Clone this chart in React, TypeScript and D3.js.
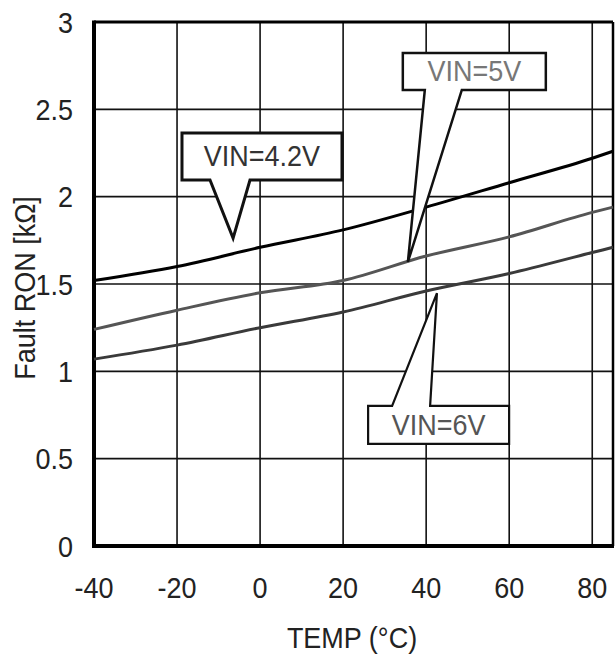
import React from "react";
import * as d3 from "d3";

const temps = [-40, -20, 0, 20, 40, 60, 80, 85];
const vin42 = [1.52, 1.6, 1.71, 1.81, 1.94, 2.08, 2.22, 2.26];
const vin5 = [1.24, 1.35, 1.45, 1.52, 1.66, 1.77, 1.91, 1.94];
const vin6 = [1.07, 1.15, 1.25, 1.34, 1.46, 1.56, 1.68, 1.71];

const xTicks = [-40, -20, 0, 20, 40, 60, 80];
const yTicks = [0, 0.5, 1, 1.5, 2, 2.5, 3];

const seriesNames = ["VIN=4.2V", "VIN=5V", "VIN=6V"];
const seriesColors = ["#000000", "#555555", "#3a3a3a"];

// callouts: tip and box centre in data units
const calloutLabels = ["VIN=4.2V", "VIN=5V", "VIN=6V"];
const calloutTipTemp = [-6.5, 35.6, 42.6];
const calloutTipVal = [1.763, 1.626, 1.448];
const calloutBoxTemp = [0.46, 51.6, 43.0];
const calloutBoxVal = [2.23, 2.717, 0.693];

const W = 615;
const H = 657;
const FONT = "'Liberation Sans', Arial, sans-serif";

export default function App() {
  const x = d3.scaleLinear().domain([-40, 85]).range([94, 613]);
  const y = d3.scaleLinear().domain([0, 3]).range([546, 22]);

  const line = d3
    .line<number>()
    .x((_, i) => x(temps[i]))
    .y((d) => y(d))
    .curve(d3.curveMonotoneX);

  const series = [vin42, vin5, vin6];

  // callout geometry (px sizes are styling)
  const boxW = [160, 143, 141];
  const boxH = [47, 37, 38];
  const baseL = [-52, -49.5, -46.5];
  const baseR = [-12, -12.5, -8.5];
  const strokeW = [3, 2.5, 2.2];
  const textColors = ["#333", "#777", "#555"];

  const calloutPath = (i: number) => {
    const cx = x(calloutBoxTemp[i]);
    const cy = y(calloutBoxVal[i]);
    const tx = x(calloutTipTemp[i]);
    const ty = y(calloutTipVal[i]);
    const l = cx - boxW[i] / 2;
    const r = cx + boxW[i] / 2;
    const t = cy - boxH[i] / 2;
    const b = cy + boxH[i] / 2;
    if (ty > cy) {
      // pointer downward from bottom
      return `M${l},${t}H${r}V${b}H${cx + baseR[i]}L${tx},${ty}L${cx + baseL[i]},${b}H${l}Z`;
    }
    return `M${l},${t}H${cx + baseL[i]}L${tx},${ty}L${cx + baseR[i]},${t}H${r}V${b}H${l}Z`;
  };

  const stretch = 1.12;

  return (
    <svg
      width={W}
      height={H}
      style={{ position: "absolute", left: 0, top: 0, background: "#fff" }}
    >
      <rect x={0} y={0} width={W} height={H} fill="#fff" />
      {/* grid */}
      {xTicks.slice(1).map((t) => (
        <line key={"gx" + t} x1={x(t)} x2={x(t)} y1={y(3)} y2={y(0)} stroke="#111" strokeWidth={1.6} />
      ))}
      {yTicks.slice(1, -1).map((t) => (
        <line key={"gy" + t} x1={x(-40)} x2={x(85)} y1={y(t)} y2={y(t)} stroke="#111" strokeWidth={1.6} />
      ))}
      {/* frame */}
      <line x1={x(-40)} x2={x(85)} y1={y(3)} y2={y(3)} stroke="#000" strokeWidth={3} />
      <line x1={x(85)} x2={x(85)} y1={y(3)} y2={y(0)} stroke="#000" strokeWidth={2.5} />
      <line x1={x(-40)} x2={x(-40)} y1={y(3) - 1.5} y2={y(0) + 2} stroke="#000" strokeWidth={4} />
      <line x1={x(-40) - 2} x2={x(85) + 1} y1={y(0)} y2={y(0)} stroke="#000" strokeWidth={4} />

      {/* series */}
      {series.map((s, i) => (
        <path key={seriesNames[i]} d={line(s) || ""} fill="none" stroke={seriesColors[i]} strokeWidth={3} />
      ))}

      {/* callouts */}
      {calloutLabels.map((lab, i) => (
        <g key={lab}>
          <path d={calloutPath(i)} fill="#fff" stroke="#111" strokeWidth={strokeW[i]} strokeLinejoin="miter" />
          <text
            transform={`translate(${x(calloutBoxTemp[i])},${y(calloutBoxVal[i]) + 10}) scale(1,${stretch})`}
            textAnchor="middle"
            fontFamily={FONT}
            fontSize={27}
            fill={textColors[i]}
          >
            {lab}
          </text>
        </g>
      ))}

      {/* y tick labels */}
      {yTicks.map((t) => (
        <text
          key={"yl" + t}
          transform={`translate(73,${y(t) + 10.5}) scale(1,${stretch})`}
          textAnchor="end"
          fontFamily={FONT}
          fontSize={27}
          fill="#222"
        >
          {String(t)}
        </text>
      ))}
      {/* x tick labels */}
      {xTicks.map((t) => (
        <text
          key={"xl" + t}
          transform={`translate(${x(t)},598) scale(1,${stretch})`}
          textAnchor="middle"
          fontFamily={FONT}
          fontSize={27}
          fill="#222"
        >
          {String(t)}
        </text>
      ))}
      {/* axis titles */}
      <text
        transform={`translate(352,648) scale(1,${stretch})`}
        textAnchor="middle"
        fontFamily={FONT}
        fontSize={27}
        fill="#222"
      >
        TEMP (°C)
      </text>
      <text
        transform={`translate(35,288) rotate(-90) scale(1,${stretch})`}
        textAnchor="middle"
        fontFamily={FONT}
        fontSize={27}
        fill="#222"
      >
        Fault RON [kΩ]
      </text>
    </svg>
  );
}
